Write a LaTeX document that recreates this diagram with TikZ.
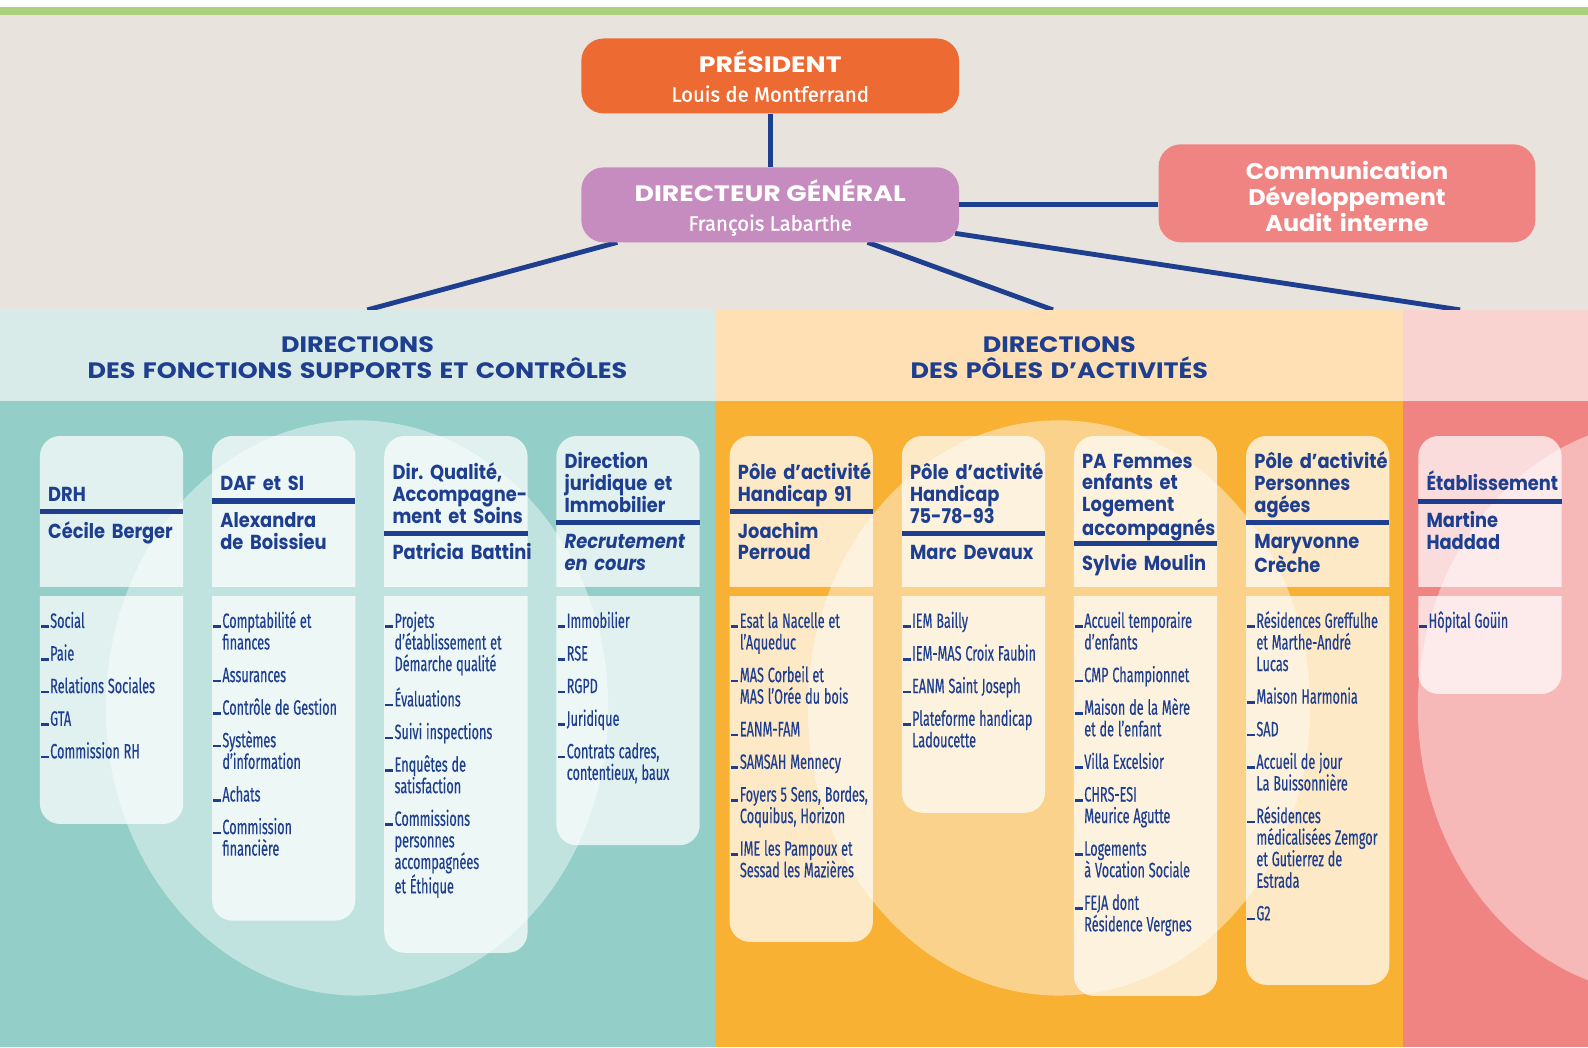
\documentclass[tikz,border=0pt]{standalone}
\usepackage{fontspec}
\setmainfont{Fira Sans}
\newfontfamily\montH[FakeStretch=0.88]{Poppins}
\newfontfamily\montB[FakeStretch=1.14]{Poppins}
\newfontfamily\montT[FakeStretch=1.2]{Poppins}
\newfontfamily\montC[FakeStretch=1.05]{Poppins}
\newfontfamily\namef[FakeStretch=0.98, FakeBold=0.9]{Fira Sans}
\newfontfamily\cond[FakeStretch=0.61, FakeBold=0.4]{Fira Sans}
\frenchspacing
\usetikzlibrary{calc}
\definecolor{navy}{HTML}{1E3E8F}
\definecolor{greenbar}{HTML}{ABD17D}
\definecolor{beige}{HTML}{E8E3DD}
\definecolor{presor}{HTML}{ED6B32}
\definecolor{dgpurple}{HTML}{C68CBF}
\definecolor{pinkm}{HTML}{F08482}
\definecolor{tealband}{HTML}{D8EBE8}
\definecolor{tealm}{HTML}{93CFC8}
\definecolor{peachband}{HTML}{FEE0B4}
\definecolor{orangem}{HTML}{F8B133}
\definecolor{pinkband}{HTML}{F9D3CF}
\newcommand\dsh{\leavevmode\llap{\rule{7.5pt}{2.4pt}\hspace{1.5pt}}}
\newcommand\nx{\\[10.9pt]\dsh}
\tikzset{
  conn/.style={draw=navy, line width=4.8pt},
  bigbox/.style={rounded corners=22pt, inner sep=0pt, draw=none},
  boxtitle/.style={font=\montT\bfseries\fontsize{22}{22}\selectfont, text=white, inner sep=0pt, anchor=base},
  boxname/.style={font=\namef\fontsize{20.5}{20.5}\selectfont, text=white, inner sep=0pt, anchor=base},
  bandtitle/.style={font=\montB\bfseries\fontsize{22}{26.3}\selectfont, text=navy, inner sep=0pt, align=center, text width=700pt, anchor=base},
  commtext/.style={font=\montC\bfseries\fontsize{22.5}{25.8}\selectfont, text=white, inner sep=0pt, align=center, text width=360pt, anchor=base},
  cardfill/.style={fill=white, fill opacity=0.72},
  halo/.style={fill=white, fill opacity=0.43},
  hrule/.style={draw=navy, line width=5pt},
  htitle/.style={font=\montH\bfseries\fontsize{20}{21.6}\selectfont, text=navy, inner sep=0pt, text width=200pt, align=left, anchor=base west},
  hname/.style={font=\montH\bfseries\fontsize{20}{21.6}\selectfont, text=navy, inner sep=0pt, text width=200pt, align=left, anchor=base west},
  ltext/.style={font=\cond\fontsize{20.5}{21.3}\selectfont, text=navy, inner sep=0pt, text width=200pt, align=flush left, anchor=base west},
}
\newcommand\hcard[6]{%
 \begin{scope}[shift={(#2,0)}]
  \begin{scope}
   \clip (0,430.5) rectangle (141.5,579);
   \fill[cardfill, rounded corners=20pt] (0,430.5) rectangle (141.5,615);
  \end{scope}
  \draw[hrule] (0,#3) -- (141.5,#3);
  \node[htitle] (#1t) at (8,#4) {#5};
  \node[hname] (#1n) at (8,#3+26) {#6};
 \end{scope}}
\newcommand\lcard[4]{%
 \begin{scope}[shift={(#2,0)}]
  \begin{scope}
   \clip (0,588.5) rectangle (141.5,#3);
   \fill[cardfill, rounded corners=20pt] (0,550) rectangle (141.5,#3);
  \end{scope}
  \node[ltext] (#1l) at (10,620) {\spaceskip=3.8pt plus 1pt minus 0.5pt\relax\dsh #4};
 \end{scope}}
\begin{document}
\begin{tikzpicture}[x=1pt, y=-1pt]
\useasboundingbox (0,0) rectangle (1568,1034);
\fill[white] (0,0) rectangle (1568,1034);
\fill[greenbar] (0,7.2) rectangle (1568,14.8);
\fill[beige] (0,14.8) rectangle (1568,306);
% connector end points
\coordinate (dgA) at (609.5,239.3);
\coordinate (dgB) at (856.6,239.3);
\coordinate (dgC) at (943,230.4);
\coordinate (bandA) at (362.7,306);
\coordinate (bandB) at (1039.7,306);
\coordinate (bandC) at (1441.7,306);
\draw[conn] (dgA) -- (bandA);
\draw[conn] (dgB) -- (bandB);
\draw[conn] (dgC) -- (bandC);
% top boxes
\node[bigbox, fill=presor, minimum width=373pt, minimum height=74pt] (pres) at (760.5,75) {};
\node[bigbox, fill=dgpurple, minimum width=373pt, minimum height=74pt] (dg) at (760.5,202.25) {};
\node[bigbox, fill=pinkm, minimum width=372pt, minimum height=96.8pt] (comm) at (1330,190.9) {};
\draw[conn] (pres.south) -- (dg.north);
\draw[conn] (dg.east) -- (dg.east -| comm.west);
\node[boxtitle] (presT) at (760.5,71.8) {PRÉSIDENT};
\node[boxname] (presN) at (760.5,100.4) {Louis de Montferrand};
\node[boxtitle] (dgT) at (760.5,199.1) {DIRECTEUR GÉNÉRAL};
\node[boxname] (dgN) at (760.5,227.8) {François Labarthe};
\node[commtext] (commT) at (1330,177) {Communication\\Développement\\Audit interne};
% bands
\fill[tealband] (0,306) rectangle (706.3,396);
\fill[peachband] (706.3,306) rectangle (1385.8,396);
\fill[pinkband] (1385.8,306) rectangle (1568,396);
\fill[tealm] (0,396) rectangle (706.3,1034);
\fill[orangem] (706.3,396) rectangle (1385.8,1034);
\fill[pinkm] (1385.8,396) rectangle (1568,1034);
\node[bandtitle] (band1) at (353,347.9) {DIRECTIONS\\DES FONCTIONS SUPPORTS ET CONTRÔLES};
\node[bandtitle] (band2) at (1046,347.9) {DIRECTIONS\\DES PÔLES D’ACTIVITÉS};
% halos
\fill[halo] (352.5,699) ellipse [x radius=248pt, y radius=284pt];
\fill[halo] (1045.6,699) ellipse [x radius=248pt, y radius=284pt];
\begin{scope}
\clip (1385.8,396) rectangle (1568,1034);
\fill[halo] (1648,699) ellipse [x radius=248pt, y radius=284pt];
\end{scope}
% cards
\hcard{drh}{39.4}{505.5}{495.5}{DRH}{Cécile Berger}
\hcard{daf}{209.4}{494.7}{484.7}{DAF et SI}{Alexandra\\de Boissieu}
\hcard{qual}{379.4}{526.5}{473.3}{Dir. Qualité,\\Accompagne-\\ment et Soins}{Patricia Battini}
\hcard{jur}{549.4}{515.8}{462.6}{Direction\\juridique et\\Immobilier}{\itshape Recrutement\\en cours}
\hcard{hun}{720.4}{505.3}{473.7}{Pôle d’activité\\Handicap 91}{Joachim\\Perroud}
\hcard{hdeux}{890.4}{526.5}{473.3}{Pôle d’activité\\Handicap\\75-78-93}{Marc Devaux}
\hcard{paf}{1060.4}{537}{462.2}{PA Femmes\\enfants et\\Logement\\accompagnés}{Sylvie Moulin}
\hcard{pag}{1230.4}{516}{462.8}{Pôle d’activité\\Personnes\\agées}{Maryvonne\\Crèche}
\hcard{etab}{1400.4}{494.8}{484.8}{Établissement}{Martine\\Haddad}
\lcard{drh}{39.4}{813.6}{Social\nx Paie\nx Relations Sociales\nx GTA\nx Commission RH}
\lcard{daf}{209.4}{909}{Comptabilité et\\finances\nx Assurances\nx Contrôle de Gestion\nx Systèmes\\d’information\nx Achats\nx Commission\\financière}
\lcard{qual}{379.4}{940.8}{Projets\\d’établissement et\\Démarche qualité\nx Évaluations\nx Suivi inspections\nx Enquêtes de\\satisfaction\nx Commissions\\personnes\\accompagnées\\et Éthique}
\lcard{jur}{549.4}{834.5}{Immobilier\nx RSE\nx RGPD\nx Juridique\nx Contrats cadres,\\contentieux, baux}
\lcard{hun}{720.4}{930}{Esat la Nacelle et\\l’Aqueduc\nx MAS Corbeil et\\MAS l’Orée du bois\nx EANM-FAM\nx SAMSAH Mennecy\nx Foyers 5 Sens, Bordes,\\Coquibus, Horizon\nx IME les Pampoux et\\Sessad les Mazières}
\lcard{hdeux}{890.4}{802.5}{IEM Bailly\nx IEM-MAS Croix Faubin\nx EANM Saint Joseph\nx Plateforme handicap\\Ladoucette}
\lcard{paf}{1060.4}{983.4}{Accueil temporaire\\d’enfants\nx CMP Championnet\nx Maison de la Mère\\et de l’enfant\nx Villa Excelsior\nx CHRS-ESI\\Meurice Agutte\nx Logements\\à Vocation Sociale\nx FEJA dont\\Résidence Vergnes}
\lcard{pag}{1230.4}{972.4}{Résidences Greffulhe\\et Marthe-André\\Lucas\nx Maison Harmonia\nx SAD\nx Accueil de jour\\La Buissonnière\nx Résidences\\médicalisées Zemgor\\et Gutierrez de\\Estrada\nx G2}
\lcard{etab}{1400.4}{685.2}{Hôpital Goüin}
\end{tikzpicture}
\end{document}
